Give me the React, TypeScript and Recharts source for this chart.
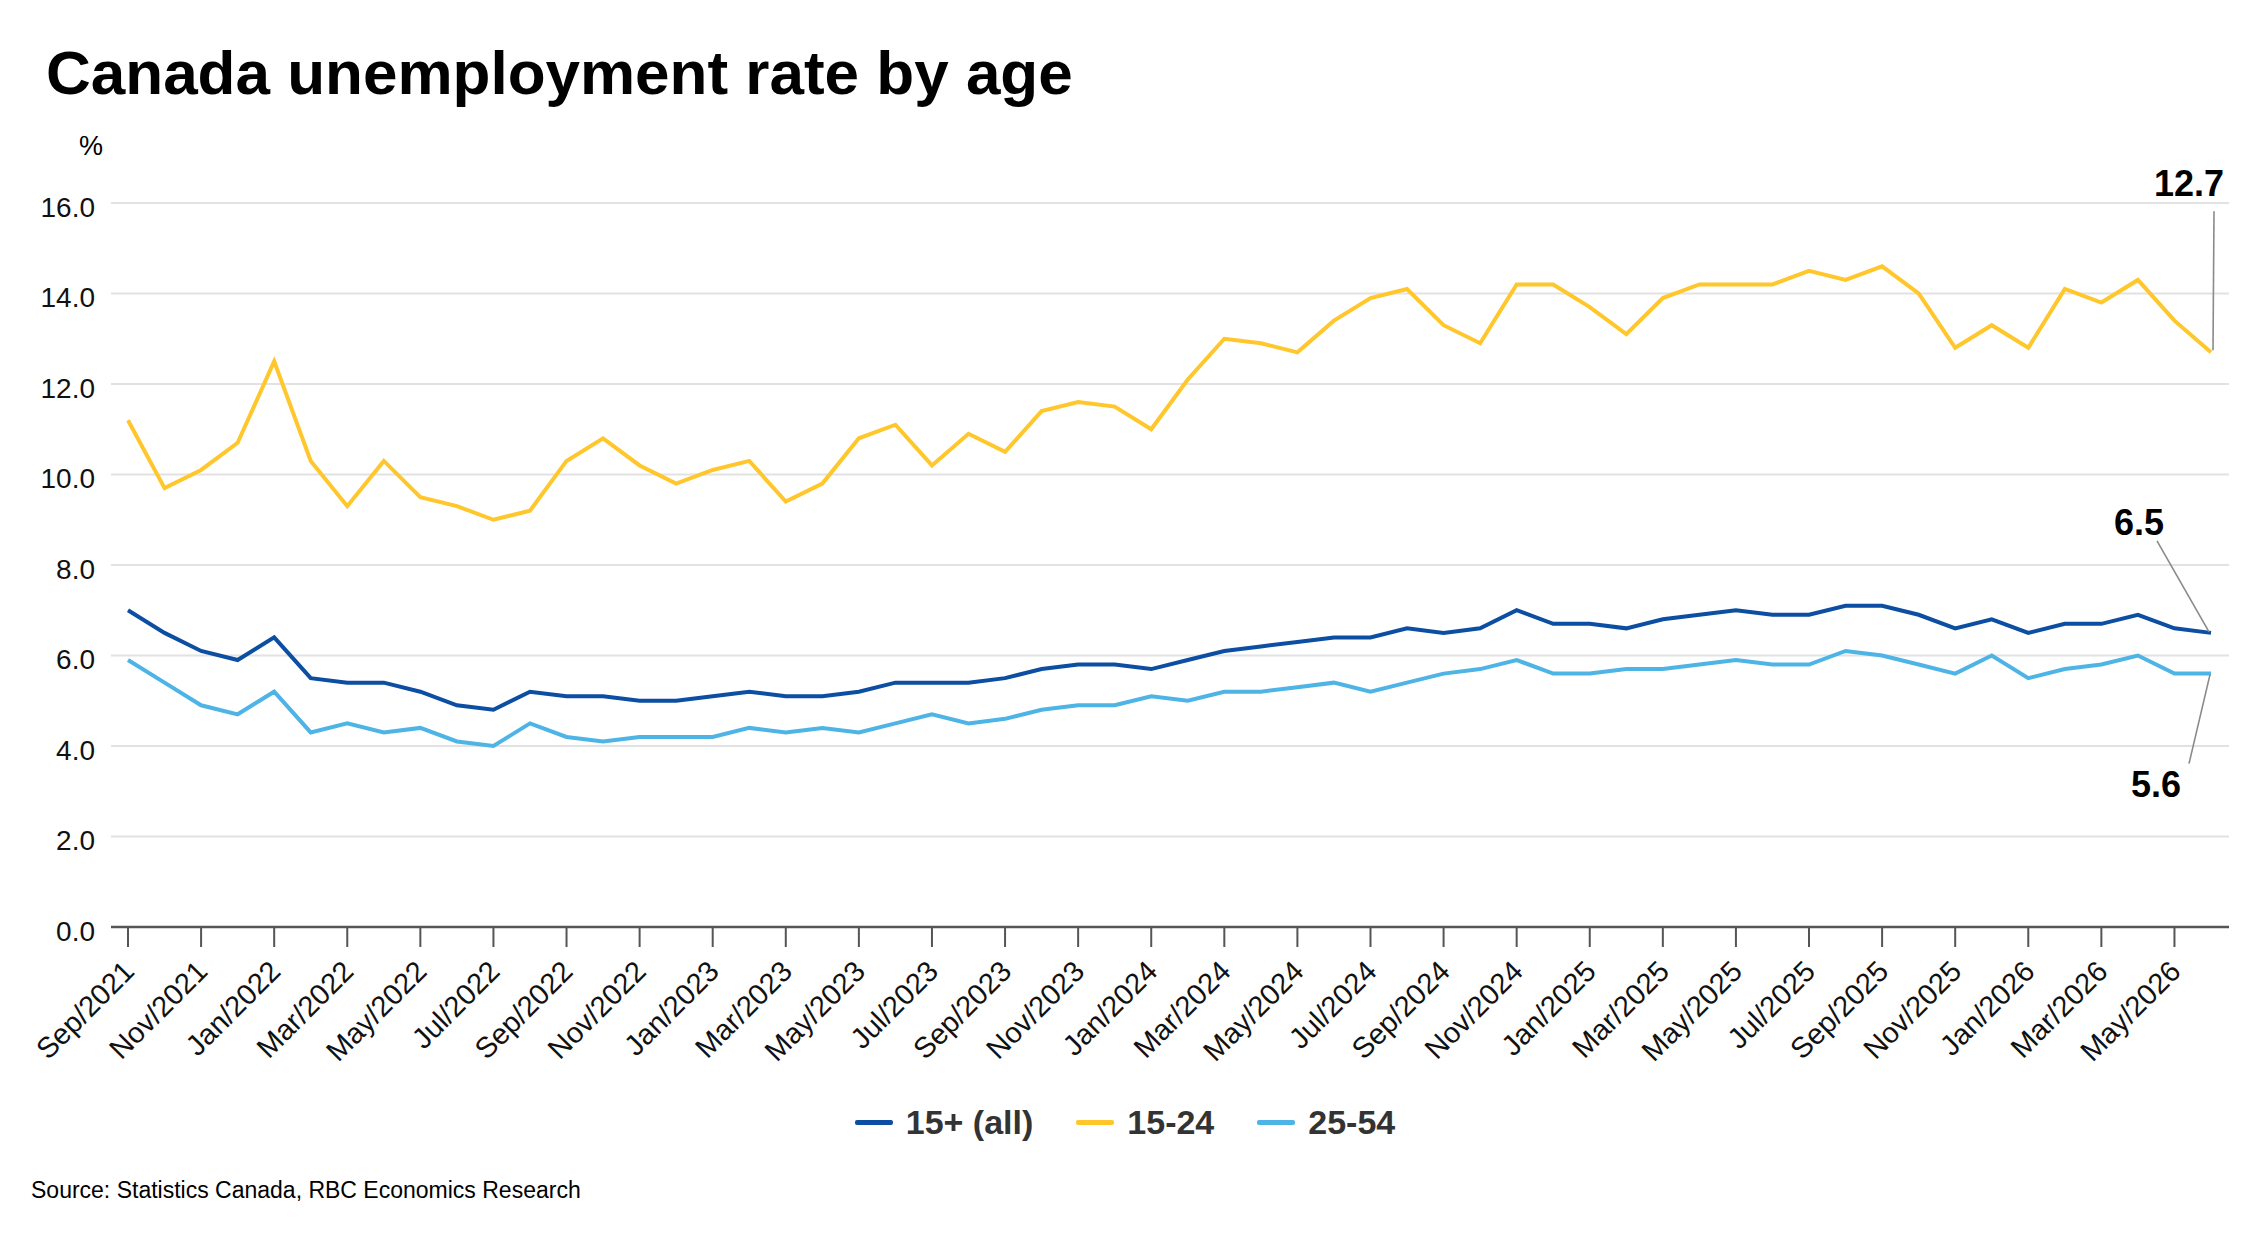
import React from 'react';
import { LineChart, Line, XAxis, YAxis, CartesianGrid } from 'recharts';

const months: string[] = [
  'Sep/2021', 'Oct/2021', 'Nov/2021', 'Dec/2021',
  'Jan/2022', 'Feb/2022', 'Mar/2022', 'Apr/2022', 'May/2022', 'Jun/2022', 'Jul/2022', 'Aug/2022', 'Sep/2022', 'Oct/2022', 'Nov/2022', 'Dec/2022',
  'Jan/2023', 'Feb/2023', 'Mar/2023', 'Apr/2023', 'May/2023', 'Jun/2023', 'Jul/2023', 'Aug/2023', 'Sep/2023', 'Oct/2023', 'Nov/2023', 'Dec/2023',
  'Jan/2024', 'Feb/2024', 'Mar/2024', 'Apr/2024', 'May/2024', 'Jun/2024', 'Jul/2024', 'Aug/2024', 'Sep/2024', 'Oct/2024', 'Nov/2024', 'Dec/2024',
  'Jan/2025', 'Feb/2025', 'Mar/2025', 'Apr/2025', 'May/2025', 'Jun/2025', 'Jul/2025', 'Aug/2025', 'Sep/2025', 'Oct/2025', 'Nov/2025', 'Dec/2025',
  'Jan/2026', 'Feb/2026', 'Mar/2026', 'Apr/2026', 'May/2026', 'Jun/2026',
];

const all15plus: number[] = [
  7.0, 6.5, 6.1, 5.9, 6.4, 5.5, 5.4, 5.4, 5.2, 4.9, 4.8, 5.2, 5.1, 5.1, 5.0, 5.0, 5.1, 5.2, 5.1,
  5.1, 5.2, 5.4, 5.4, 5.4, 5.5, 5.7, 5.8, 5.8, 5.7, 5.9, 6.1, 6.2, 6.3, 6.4, 6.4, 6.6, 6.5, 6.6,
  7.0, 6.7, 6.7, 6.6, 6.8, 6.9, 7.0, 6.9, 6.9, 7.1, 7.1, 6.9, 6.6, 6.8, 6.5, 6.7, 6.7, 6.9, 6.6, 6.5,
];

const youth15to24: number[] = [
  11.2, 9.7, 10.1, 10.7, 12.5, 10.3, 9.3, 10.3, 9.5, 9.3, 9.0, 9.2, 10.3, 10.8, 10.2, 9.8, 10.1, 10.3, 9.4,
  9.8, 10.8, 11.1, 10.2, 10.9, 10.5, 11.4, 11.6, 11.5, 11.0, 12.1, 13.0, 12.9, 12.7, 13.4, 13.9, 14.1, 13.3, 12.9,
  14.2, 14.2, 13.7, 13.1, 13.9, 14.2, 14.2, 14.2, 14.5, 14.3, 14.6, 14.0, 12.8, 13.3, 12.8, 14.1, 13.8, 14.3, 13.4, 12.7,
];

const core25to54: number[] = [
  5.9, 5.4, 4.9, 4.7, 5.2, 4.3, 4.5, 4.3, 4.4, 4.1, 4.0, 4.5, 4.2, 4.1, 4.2, 4.2, 4.2, 4.4, 4.3,
  4.4, 4.3, 4.5, 4.7, 4.5, 4.6, 4.8, 4.9, 4.9, 5.1, 5.0, 5.2, 5.2, 5.3, 5.4, 5.2, 5.4, 5.6, 5.7,
  5.9, 5.6, 5.6, 5.7, 5.7, 5.8, 5.9, 5.8, 5.8, 6.1, 6.0, 5.8, 5.6, 6.0, 5.5, 5.7, 5.8, 6.0, 5.6, 5.6,
];

const yTicks: number[] = [0, 2, 4, 6, 8, 10, 12, 14, 16];

const seriesNames = ['15+ (all)', '15-24', '25-54'];
const colors = { all: '#0B4EA2', youth: '#FFC72C', core: '#4EB4E6' };

const data = months.map((m, i) => ({
  month: m,
  all: all15plus[i],
  youth: youth15to24[i],
  core: core25to54[i],
}));

const FONT = '"Liberation Sans", Arial, Helvetica, sans-serif';
const LAST = months.length - 1;

const XTick = (props: any) => {
  const { x, y, payload } = props;
  return (
    <g transform={`translate(${x},${y})`}>
      <text
        x={8}
        y={24}
        textAnchor="end"
        transform="rotate(-45, 8, 24)"
        fontFamily={FONT}
        fontSize={29}
        fill="#111"
      >
        {payload.value}
      </text>
    </g>
  );
};

type AnnSpec = { tx: number; ty: number; l1: [number, number]; l2: [number, number] };

const makeEndLabel = (spec: AnnSpec) => (props: any) => {
  const { x, y, index, value } = props;
  if (index !== LAST) return null;
  return (
    <g>
      <line
        x1={x + spec.l1[0]}
        y1={y + spec.l1[1]}
        x2={x + spec.l2[0]}
        y2={y + spec.l2[1]}
        stroke="#8a8a8a"
        strokeWidth={1.6}
      />
      <text
        x={x + spec.tx}
        y={y + spec.ty}
        textAnchor="end"
        fontFamily={FONT}
        fontWeight="bold"
        fontSize={36}
        fill="#000"
      >
        {Number(value).toFixed(1)}
      </text>
    </g>
  );
};

const youthLabel = makeEndLabel({ tx: 13, ty: -156, l1: [3, -141], l2: [2, -2] });
const allLabel = makeEndLabel({ tx: -47, ty: -98, l1: [-54, -92], l2: [-2, -1] });
const coreLabel = makeEndLabel({ tx: -30, ty: 123, l1: [-22, 90], l2: [-1, 1] });

const legendItems = [
  { name: seriesNames[0], color: colors.all },
  { name: seriesNames[1], color: colors.youth },
  { name: seriesNames[2], color: colors.core },
];

export default function App() {
  return (
    <div
      style={{
        position: 'absolute',
        left: 0,
        top: 0,
        width: 2250,
        height: 1236,
        background: '#fff',
        fontFamily: FONT,
        overflow: 'hidden',
      }}
    >
      <div
        style={{
          position: 'absolute',
          left: 46,
          top: 42,
          fontSize: 62,
          lineHeight: '62px',
          fontWeight: 'bold',
          color: '#000',
          whiteSpace: 'nowrap',
        }}
      >
        Canada unemployment rate by age
      </div>
      <div
        style={{
          position: 'absolute',
          left: 79,
          top: 133,
          fontSize: 27,
          lineHeight: '27px',
          color: '#000',
        }}
      >
        %
      </div>

      <div style={{ position: 'absolute', left: 0, top: 0 }}>
        <LineChart
          width={2250}
          height={1236}
          data={data}
          margin={{ top: 203, right: 21, bottom: 209, left: 0 }}
        >
          <CartesianGrid vertical={false} stroke="#e2e2e2" strokeWidth={2} />
          <XAxis
            dataKey="month"
            interval={1}
            height={100}
            padding={{ left: 17, right: 18 }}
            tickSize={20}
            tickMargin={2}
            tick={<XTick />}
            axisLine={{ stroke: '#555', strokeWidth: 2.5 }}
            tickLine={{ stroke: '#555', strokeWidth: 2 }}
          />
          <YAxis
            domain={[0, 16]}
            ticks={yTicks}
            width={111}
            tickSize={0}
            tickMargin={16}
            axisLine={false}
            tickLine={false}
            tickFormatter={(v: number) => v.toFixed(1)}
            tick={{ fontSize: 28, fill: '#111', fontFamily: FONT, dy: 4 }}
          />
          <Line
            type="linear"
            dataKey="youth"
            name={seriesNames[1]}
            stroke={colors.youth}
            strokeWidth={4}
            dot={false}
            isAnimationActive={false}
            label={youthLabel}
          />
          <Line
            type="linear"
            dataKey="core"
            name={seriesNames[2]}
            stroke={colors.core}
            strokeWidth={4}
            dot={false}
            isAnimationActive={false}
            label={coreLabel}
          />
          <Line
            type="linear"
            dataKey="all"
            name={seriesNames[0]}
            stroke={colors.all}
            strokeWidth={4}
            dot={false}
            isAnimationActive={false}
            label={allLabel}
          />
        </LineChart>
      </div>

      <div
        style={{
          position: 'absolute',
          left: 0,
          top: 1102,
          width: 2250,
          height: 40,
          display: 'flex',
          justifyContent: 'center',
          alignItems: 'center',
        }}
      >
        {legendItems.map((it, i) => (
          <div
            key={it.name}
            style={{
              display: 'flex',
              alignItems: 'center',
              marginLeft: i === 0 ? 0 : 43,
            }}
          >
            <div style={{ width: 38, height: 5, background: it.color, borderRadius: 2 }} />
            <span
              style={{
                marginLeft: 13,
                fontSize: 34,
                fontWeight: 'bold',
                color: '#333',
                lineHeight: '40px',
              }}
            >
              {it.name}
            </span>
          </div>
        ))}
      </div>

      <div
        style={{
          position: 'absolute',
          left: 31,
          top: 1177,
          fontSize: 23,
          lineHeight: '26px',
          color: '#000',
          whiteSpace: 'nowrap',
        }}
      >
        Source: Statistics Canada, RBC Economics Research
      </div>
    </div>
  );
}
